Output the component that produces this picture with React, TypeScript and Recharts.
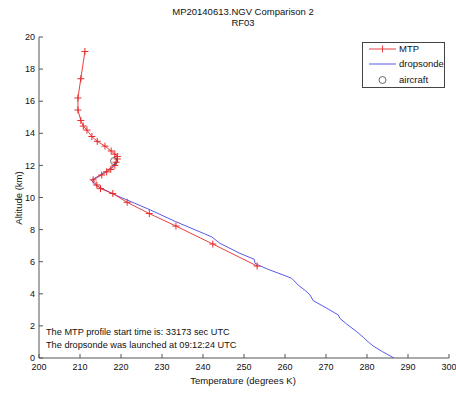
import { ScatterChart, Scatter, XAxis, YAxis } from "recharts";

const W = 456;
const H = 393;

// MTP retrieval (altitude km, temperature K)
const mtpAlt = [19.1, 17.4, 16.2, 15.45, 14.8, 14.45, 14.2, 13.8, 13.5, 13.2, 12.9, 12.7, 12.55, 12.4, 12.2, 12.0, 11.75, 11.6, 11.4, 11.1, 10.78, 10.55, 10.25, 9.7, 9.0, 8.22, 7.1, 5.73];
const mtpTemp = [211.2, 210.2, 209.5, 209.5, 210.2, 210.8, 211.7, 212.9, 214.2, 216.1, 217.6, 218.5, 219.1, 219.1, 218.8, 218.5, 217.5, 216.5, 215.3, 213.2, 214.1, 215.0, 218.0, 221.5, 226.9, 233.4, 242.4, 253.2];

// dropsonde profile
const sondeAlt = [0.0, 0.39, 0.75, 1.0, 1.29, 1.64, 2.12, 2.47, 2.68, 3.1, 3.57, 3.93, 4.17, 4.55, 4.97, 5.17, 5.52, 5.79, 5.9, 6.15, 6.52, 7.15, 7.55, 8.5, 9.23, 10.26, 10.78, 11.09, 11.35, 11.65, 11.95, 12.2];
const sondeTemp = [286.6, 283.8, 281.5, 280.3, 279.1, 277.5, 275.0, 273.4, 273.0, 270.2, 266.9, 266.1, 265.1, 263.2, 261.6, 259.6, 255.9, 253.5, 252.7, 252.5, 249.0, 244.1, 242.1, 233.3, 227.1, 217.7, 213.7, 212.8, 214.6, 216.4, 218.1, 218.6];

const aircraftAlt = [12.27];
const aircraftTemp = [218.3];

const xTicks = [200, 210, 220, 230, 240, 250, 260, 270, 280, 290, 300];
const yTicks = [0, 2, 4, 6, 8, 10, 12, 14, 16, 18, 20];

const mtpData = mtpAlt.map((a, i) => ({ t: mtpTemp[i], alt: a }));
const sondeData = sondeAlt.map((a, i) => ({ t: sondeTemp[i], alt: a }));
const aircraftData = aircraftAlt.map((a, i) => ({ t: aircraftTemp[i], alt: a }));

const RED = "#e82a2a";
const BLUE = "#4646e6";
const AXIS = "#555";
const FONT = "'Liberation Sans', Arial, sans-serif";

const Plus = (props: any) => {
  const { cx, cy } = props;
  if (cx == null || cy == null) return <g />;
  return (
    <g>
      <line x1={cx - 3.5} x2={cx + 3.5} y1={cy} y2={cy} stroke={RED} strokeWidth={1} />
      <line x1={cx} x2={cx} y1={cy - 3.5} y2={cy + 3.5} stroke={RED} strokeWidth={1} />
    </g>
  );
};

const Ring = (props: any) => {
  const { cx, cy } = props;
  if (cx == null || cy == null) return <g />;
  return <circle cx={cx} cy={cy} r={3.5} fill="none" stroke="#444" strokeWidth={0.8} />;
};

const Nothing = () => <g />;

export default function App() {
  const txt = { position: "absolute" as const, fontFamily: FONT, color: "#111", whiteSpace: "nowrap" as const };
  return (
    <div style={{ position: "absolute", left: 0, top: 0, width: W, height: H, background: "#fff" }}>
      <ScatterChart width={W} height={H} margin={{ top: 37, right: 7, bottom: 15, left: 9 }}>
        <XAxis
          xAxisId="b"
          type="number"
          dataKey="t"
          domain={[200, 300]}
          ticks={xTicks}
          orientation="bottom"
          height={20}
          tickSize={-4}
          tickMargin={10}
          stroke={AXIS}
          tick={{ fill: "#111", fontSize: 9, fontFamily: FONT }}
          allowDataOverflow
        />
        <XAxis
          xAxisId="top"
          type="number"
          dataKey="t"
          domain={[200, 300]}
          ticks={xTicks}
          orientation="top"
          height={0}
          tickSize={-4}
          stroke={AXIS}
          tick={Nothing}
        />
        <YAxis
          yAxisId="l"
          type="number"
          dataKey="alt"
          domain={[0, 20]}
          ticks={yTicks}
          orientation="left"
          width={30}
          tickSize={-4}
          tickMargin={8}
          stroke={AXIS}
          tick={{ fill: "#111", fontSize: 9, fontFamily: FONT }}
          allowDataOverflow
        />
        <YAxis
          yAxisId="r"
          type="number"
          dataKey="alt"
          domain={[0, 20]}
          ticks={yTicks}
          orientation="right"
          width={0}
          tickSize={-4}
          stroke={AXIS}
          tick={Nothing}
        />
        <Scatter
          name="dropsonde"
          data={sondeData}
          xAxisId="b"
          yAxisId="l"
          line={{ stroke: BLUE, strokeWidth: 0.9 }}
          lineType="joint"
          shape={Nothing}
          isAnimationActive={false}
        />
        <Scatter
          name="MTP"
          data={mtpData}
          xAxisId="b"
          yAxisId="l"
          line={{ stroke: RED, strokeWidth: 0.9 }}
          lineType="joint"
          shape={Plus}
          isAnimationActive={false}
        />
        <Scatter
          name="aircraft"
          data={aircraftData}
          xAxisId="b"
          yAxisId="l"
          shape={Ring}
          isAnimationActive={false}
        />
      </ScatterChart>

      <div style={{ ...txt, left: 0, width: W, top: 6, textAlign: "center", fontSize: 9.5, lineHeight: "11px", paddingLeft: 30, boxSizing: "border-box" }}>
        MP20140613.NGV Comparison 2
        <br />
        RF03
      </div>

      <div style={{ ...txt, left: 0, width: W, top: 375, textAlign: "center", fontSize: 9.5, paddingLeft: 30, boxSizing: "border-box" }}>
        Temperature (degrees K)
      </div>

      <div style={{ ...txt, left: 18, top: 198, fontSize: 9.5, transform: "translate(-50%, -50%) rotate(-90deg)" }}>
        Altitude (km)
      </div>

      <div style={{ ...txt, left: 46, top: 326, fontSize: 9.2, lineHeight: "13px" }}>
        The MTP profile start time is: 33173 sec UTC
        <br />
        The dropsonde was launched at 09:12:24 UTC
      </div>

      <div style={{ position: "absolute", left: 362, top: 42, width: 83, height: 46, border: "1px solid #444", background: "#fff", fontFamily: FONT, fontSize: 9.5, boxSizing: "border-box" }}>
        <svg width={81} height={44} style={{ position: "absolute", left: 0, top: 0 }}>
          <line x1={6} x2={33} y1={6} y2={6} stroke={RED} strokeWidth={0.9} />
          <line x1={19.5} x2={19.5} y1={2.5} y2={9.5} stroke={RED} strokeWidth={0.9} />
          <line x1={6} x2={33} y1={21} y2={21} stroke={BLUE} strokeWidth={0.9} />
          <circle cx={19.5} cy={37} r={3.5} fill="none" stroke="#444" strokeWidth={0.8} />
        </svg>
        <div style={{ ...txt, left: 36, top: 0 }}>MTP</div>
        <div style={{ ...txt, left: 36, top: 15 }}>dropsonde</div>
        <div style={{ ...txt, left: 36, top: 31 }}>aircraft</div>
      </div>
    </div>
  );
}
